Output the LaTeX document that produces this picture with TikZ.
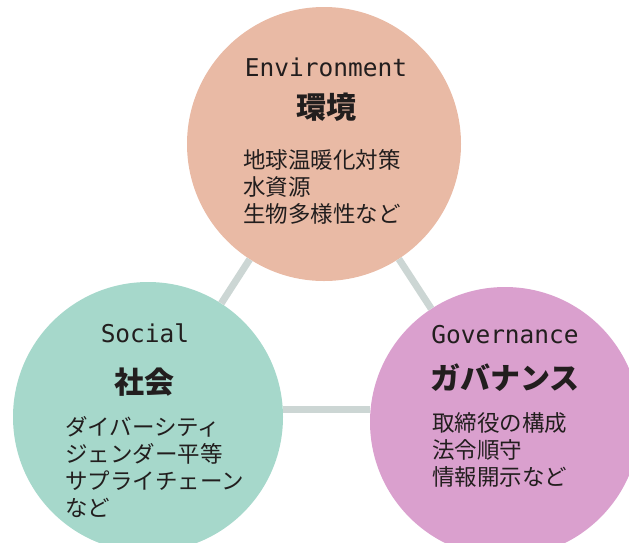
\documentclass[tikz,border=0pt]{standalone}
\usepackage{fontspec}
\usepackage{tikz}
\usetikzlibrary{positioning}
\newfontfamily\jpfont{Noto Sans CJK JP}
\newfontfamily\latinmono{DejaVu Sans Mono}
\definecolor{envcol}{RGB}{233,186,165}
\definecolor{soccol}{RGB}{166,216,203}
\definecolor{govcol}{RGB}{218,160,206}
\definecolor{linkcol}{RGB}{204,214,212}
\definecolor{inkcol}{RGB}{34,30,30}
\tikzset{
 ball/.style={shape=circle,inner sep=0pt,draw=none},
 title/.style={font=\latinmono\fontsize{24.5}{26}\selectfont,text=inkcol,inner sep=0pt},
 head/.style={font=\jpfont\bfseries\fontsize{30}{32}\selectfont,text=inkcol,inner sep=0pt},
 body/.style={font=\jpfont\fontsize{22.5}{27}\selectfont,text=inkcol,align=left,inner sep=0pt,anchor=west},
 link/.style={draw=linkcol,line width=7pt}
}

\begin{document}
\begin{tikzpicture}[x=1pt,y=-1pt]
\useasboundingbox (0,0) rectangle (629,542);
\path (324,144) node[name=env,ball,fill=envcol,minimum size=274pt] {};
\path (148,417) node[name=soc,ball,fill=soccol,minimum size=270pt] {};
\path (505,422) node[name=gov,ball,fill=govcol,minimum size=270pt] {};

\path[link] (env) edge (soc);
\path[link] (env) edge (gov);
% horizontal bar between the two lower circles
\path[link] (soc.3) edge (soc.3 -| gov.west);

% Environment
\path (326,67) node[name=envtitle,title] {Environment};
\path (326,107) node[name=envhead,head] {環境};
\path (243,187) node[name=envbody,body] {地球温暖化対策\\水資源\\生物多様性など};

% Social
\path (145,333) node[name=soctitle,title] {Social};
\path (144,382) node[name=sochead,head] {社会};
\path (65,467) node[name=socbody,body] {ダイバーシティ\\ジェンダー平等\\サプライチェーン\\など};

% Governance
\path (505,335) node[name=govtitle,title] {Governance};
\path (505,378) node[name=govhead,head] {ガバナンス};
\path (432,450) node[name=govbody,body] {取締役の構成\\法令順守\\情報開示など};
\end{tikzpicture}
\end{document}
